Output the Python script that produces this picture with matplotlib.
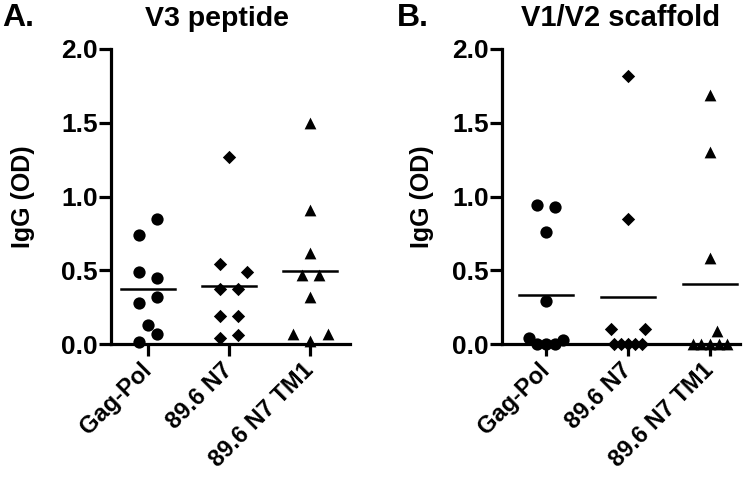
import matplotlib
matplotlib.use("Agg")
import matplotlib.pyplot as plt
import numpy as np

plt.rcParams['font.family'] = ['Liberation Sans', 'DejaVu Sans']
plt.rcParams['font.weight'] = 'bold'

categories = ["Gag-Pol", "89.6 N7", "89.6 N7 TM1"]

# Panel A: V3 peptide
a_gagpol = [0.85, 0.74, 0.49, 0.45, 0.32, 0.28, 0.13, 0.065, 0.015]
a_n7 = [1.27, 0.54, 0.49, 0.37, 0.37, 0.19, 0.19, 0.06, 0.04]
a_tm1 = [1.50, 0.91, 0.62, 0.47, 0.47, 0.32, 0.07, 0.07, 0.02]

# Panel B: V1/V2 scaffold
b_gagpol = [0.94, 0.93, 0.76, 0.29, 0.04, 0.0, 0.0, 0.0, 0.03]
b_n7 = [1.82, 0.85, 0.10, 0.10, 0.0, 0.0, 0.0, 0.0, 0.0]
b_tm1 = [1.69, 1.30, 0.58, 0.09, 0.0, 0.0, 0.0, 0.0, 0.0]

# horizontal scatter offsets (in units of point spacing)
a_jit = [[1, -1, -1, 1, 1, -1, 0, 1, -1],
         [0, -1, 2, 1, -1, -1, 1, 1, -1],
         [0, 0, 0, -1, 1, 0, -2, 2, 0]]
b_jit = [[-1, 1, 0, 0, -2, -1, 0, 1, 2],
         [0, 0, -2, 2, -1.6, -0.8, 0, 0.8, 1.6],
         [0, 0, 0, 0.8, -2, -1, 0, 1, 2]]

markers = ['o', 'D', '^']
msizes = [78, 46, 72]

fig = plt.figure(figsize=(7.5, 4.8), dpi=100)
axA = fig.add_axes([111/750, 136/480, 239/750, 295/480])
axB = fig.add_axes([502/750, 136/480, 238/750, 295/480])

def draw(ax, groups, jits, xlim, step, ylabelpad):
    for i, (vals, jit) in enumerate(zip(groups, jits)):
        x = i + np.array(jit) * step
        ax.scatter(x, vals, marker=markers[i], s=msizes[i], color='black',
                   linewidths=0, clip_on=False, zorder=3)
        m = np.mean(vals)
        ax.plot([i - 0.33, i + 0.33], [m, m], color='black', lw=1.8, zorder=3)
    ax.set_xlim(*xlim)
    ax.set_ylim(0, 2.0)
    ax.set_yticks([0, 0.5, 1.0, 1.5, 2.0])
    ax.set_yticklabels(["0.0", "0.5", "1.0", "1.5", "2.0"])
    ax.set_xticks(range(len(categories)))
    ax.set_xticklabels(categories, rotation=45, ha='right', va='center',
                       rotation_mode='anchor', fontsize=17, fontweight='bold')
    for s in ['top', 'right']:
        ax.spines[s].set_visible(False)
    for s in ['left', 'bottom']:
        ax.spines[s].set_linewidth(2.3)
    ax.tick_params(axis='both', width=2.3, length=8.5, color='black')
    ax.tick_params(axis='y', labelsize=19, pad=1)
    ax.tick_params(axis='x', pad=8)
    for lab in ax.get_yticklabels():
        lab.set_fontweight('bold')
    ax.set_ylabel("IgG (OD)", fontsize=18, fontweight='bold', labelpad=ylabelpad)

draw(axA, [a_gagpol, a_n7, a_tm1], a_jit, (-0.457, 2.49), 0.108, 19)
draw(axB, [b_gagpol, b_n7, b_tm1], b_jit, (-0.537, 2.366), 0.105, 13)

fig.text(2/750, 1 - 26/480, "A.", fontsize=23, fontweight='bold', ha='left', va='baseline')
fig.text(217/750, 1 - 26/480, "V3 peptide", fontsize=20.5, fontweight='bold', ha='center', va='baseline')
fig.text(397/750, 1 - 26/480, "B.", fontsize=23, fontweight='bold', ha='left', va='baseline')
fig.text(621/750, 1 - 26/480, "V1/V2 scaffold", fontsize=21, fontweight='bold', ha='center', va='baseline')

fig.savefig("out.png", dpi=100)
